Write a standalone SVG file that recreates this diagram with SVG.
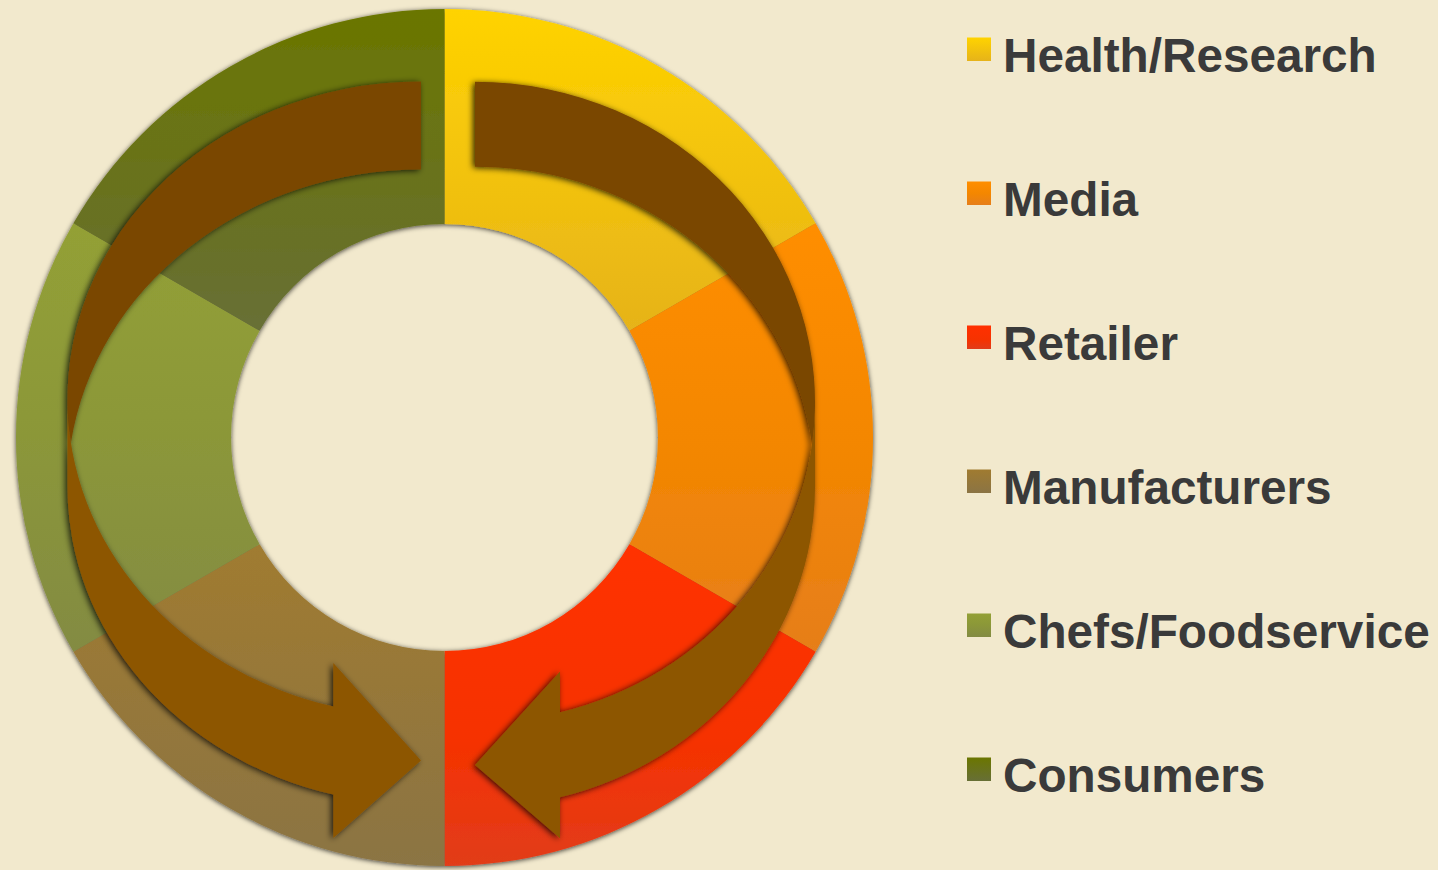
<svg xmlns="http://www.w3.org/2000/svg" width="1438" height="870" viewBox="0 0 1438 870">
  <defs>
    <style>
      .legend-text { font-family: "Liberation Sans", Arial, sans-serif; font-weight: bold; font-size: 47.7px; fill: #3a3a3a; }
      .arrow-front { fill: #8d5600; }
      .arrow-back { fill: #7a4700; }
    </style>
    <!-- segment fills: bright at the top, slightly muted toward the bottom -->
    <linearGradient id="gHealth" x1="0" y1="0" x2="0" y2="1">
      <stop offset="0" stop-color="#ffd300"/>
      <stop offset="1" stop-color="#e6b31a"/>
    </linearGradient>
    <linearGradient id="gMedia" x1="0" y1="0" x2="0" y2="1">
      <stop offset="0" stop-color="#ff8e00"/>
      <stop offset="0.5" stop-color="#f48700"/>
      <stop offset="1" stop-color="#e67e1a"/>
    </linearGradient>
    <linearGradient id="gRetailer" x1="0" y1="0" x2="0" y2="1">
      <stop offset="0" stop-color="#ff3000"/>
      <stop offset="0.6" stop-color="#f63200"/>
      <stop offset="1" stop-color="#e13c1a"/>
    </linearGradient>
    <linearGradient id="gManuf" x1="0" y1="0" x2="0" y2="1">
      <stop offset="0" stop-color="#a07b30"/>
      <stop offset="1" stop-color="#8b7444"/>
    </linearGradient>
    <linearGradient id="gChefs" x1="0" y1="0" x2="0" y2="1">
      <stop offset="0" stop-color="#93a036"/>
      <stop offset="0.45" stop-color="#8c9838"/>
      <stop offset="1" stop-color="#838b43"/>
    </linearGradient>
    <linearGradient id="gConsumers" x1="0" y1="0" x2="0" y2="1">
      <stop offset="0" stop-color="#6b7600"/>
      <stop offset="1" stop-color="#676f36"/>
    </linearGradient>
    <filter id="ringShadow" x="-10%" y="-10%" width="120%" height="120%">
      <feDropShadow dx="0" dy="1" stdDeviation="2.5" flood-color="#000" flood-opacity="0.75"/>
    </filter>
    <filter id="arrowShadow" x="-10%" y="-10%" width="120%" height="120%">
      <feDropShadow dx="-2" dy="1" stdDeviation="3" flood-color="#000" flood-opacity="0.8"/>
    </filter>
  </defs>

  <rect width="1438" height="870" fill="#f2e9cd"/>

  <!-- ring of six 60-degree segments, clockwise from 12 o'clock -->
  <g id="ring" filter="url(#ringShadow)">
    <g id="seg-health">
      <path d="M444.5 9 A428.5 428.5 0 0 1 815.59 223.25 L629.4 330.75 A213.5 213.5 0 0 0 444.5 224 Z" fill="url(#gHealth)"/>
    </g>
    <g id="seg-media">
      <path d="M815.59 223.25 A428.5 428.5 0 0 1 815.59 651.75 L629.4 544.25 A213.5 213.5 0 0 0 629.4 330.75 Z" fill="url(#gMedia)"/>
    </g>
    <g id="seg-retailer">
      <path d="M815.59 651.75 A428.5 428.5 0 0 1 444.5 866 L444.5 651 A213.5 213.5 0 0 0 629.4 544.25 Z" fill="url(#gRetailer)"/>
    </g>
    <g id="seg-manufacturers">
      <path d="M444.5 866 A428.5 428.5 0 0 1 73.41 651.75 L259.6 544.25 A213.5 213.5 0 0 0 444.5 651 Z" fill="url(#gManuf)"/>
    </g>
    <g id="seg-chefs">
      <path d="M73.41 651.75 A428.5 428.5 0 0 1 73.41 223.25 L259.6 330.75 A213.5 213.5 0 0 0 259.6 544.25 Z" fill="url(#gChefs)"/>
    </g>
    <g id="seg-consumers">
      <path d="M73.41 223.25 A428.5 428.5 0 0 1 444.5 9 L444.5 224 A213.5 213.5 0 0 0 259.6 330.75 Z" fill="url(#gConsumers)"/>
    </g>
  </g>

  <!-- curved arrows: darker back ribbon plus front ribbon with head -->
  <g id="connectors">
    <g id="arrow-left" filter="url(#arrowShadow)">
      <path class="arrow-front" d="M67.5 399 A353.5 317.5 0 0 0 333.3 706.57 L333.3 663.07 L421 760.5 L333.3 838.07 L333.3 794.57 A353.5 317.5 0 0 1 67.5 487 Z"/>
      <path class="arrow-back" d="M421 169.5 A353.5 317.5 0 0 0 70.91 443 A353.5 317.5 0 0 1 421 81.5 Z"/>
    </g>
    <g id="arrow-right" filter="url(#arrowShadow)">
      <path class="arrow-front" d="M815 402.1 A340 320.4 0 0 1 560 712.33 L560 671.48 L475 765 L560 838.18 L560 797.33 A340 320.4 0 0 0 815 487.1 Z"/>
      <path class="arrow-back" d="M475 166.7 A340 320.4 0 0 1 812 444.6 A340 320.4 0 0 0 475 81.7 Z"/>
    </g>
  </g>

  <!-- legend -->
  <g id="legend-health">
    <rect x="967" y="37.5" width="24" height="23.5" fill="url(#gHealth)"/>
    <text class="legend-text" x="1003" y="71.5">Health/Research</text>
  </g>
  <g id="legend-media">
    <rect x="967" y="181.5" width="24" height="23.5" fill="url(#gMedia)"/>
    <text class="legend-text" x="1003" y="215.5">Media</text>
  </g>
  <g id="legend-retailer">
    <rect x="967" y="325.5" width="24" height="23.5" fill="url(#gRetailer)"/>
    <text class="legend-text" x="1003" y="359.5">Retailer</text>
  </g>
  <g id="legend-manufacturers">
    <rect x="967" y="469.5" width="24" height="23.5" fill="url(#gManuf)"/>
    <text class="legend-text" x="1003" y="503.5">Manufacturers</text>
  </g>
  <g id="legend-chefs">
    <rect x="967" y="613.5" width="24" height="23.5" fill="url(#gChefs)"/>
    <text class="legend-text" x="1003" y="647.5">Chefs/Foodservice</text>
  </g>
  <g id="legend-consumers">
    <rect x="967" y="757.5" width="24" height="23.5" fill="url(#gConsumers)"/>
    <text class="legend-text" x="1003" y="791.5">Consumers</text>
  </g>
</svg>
